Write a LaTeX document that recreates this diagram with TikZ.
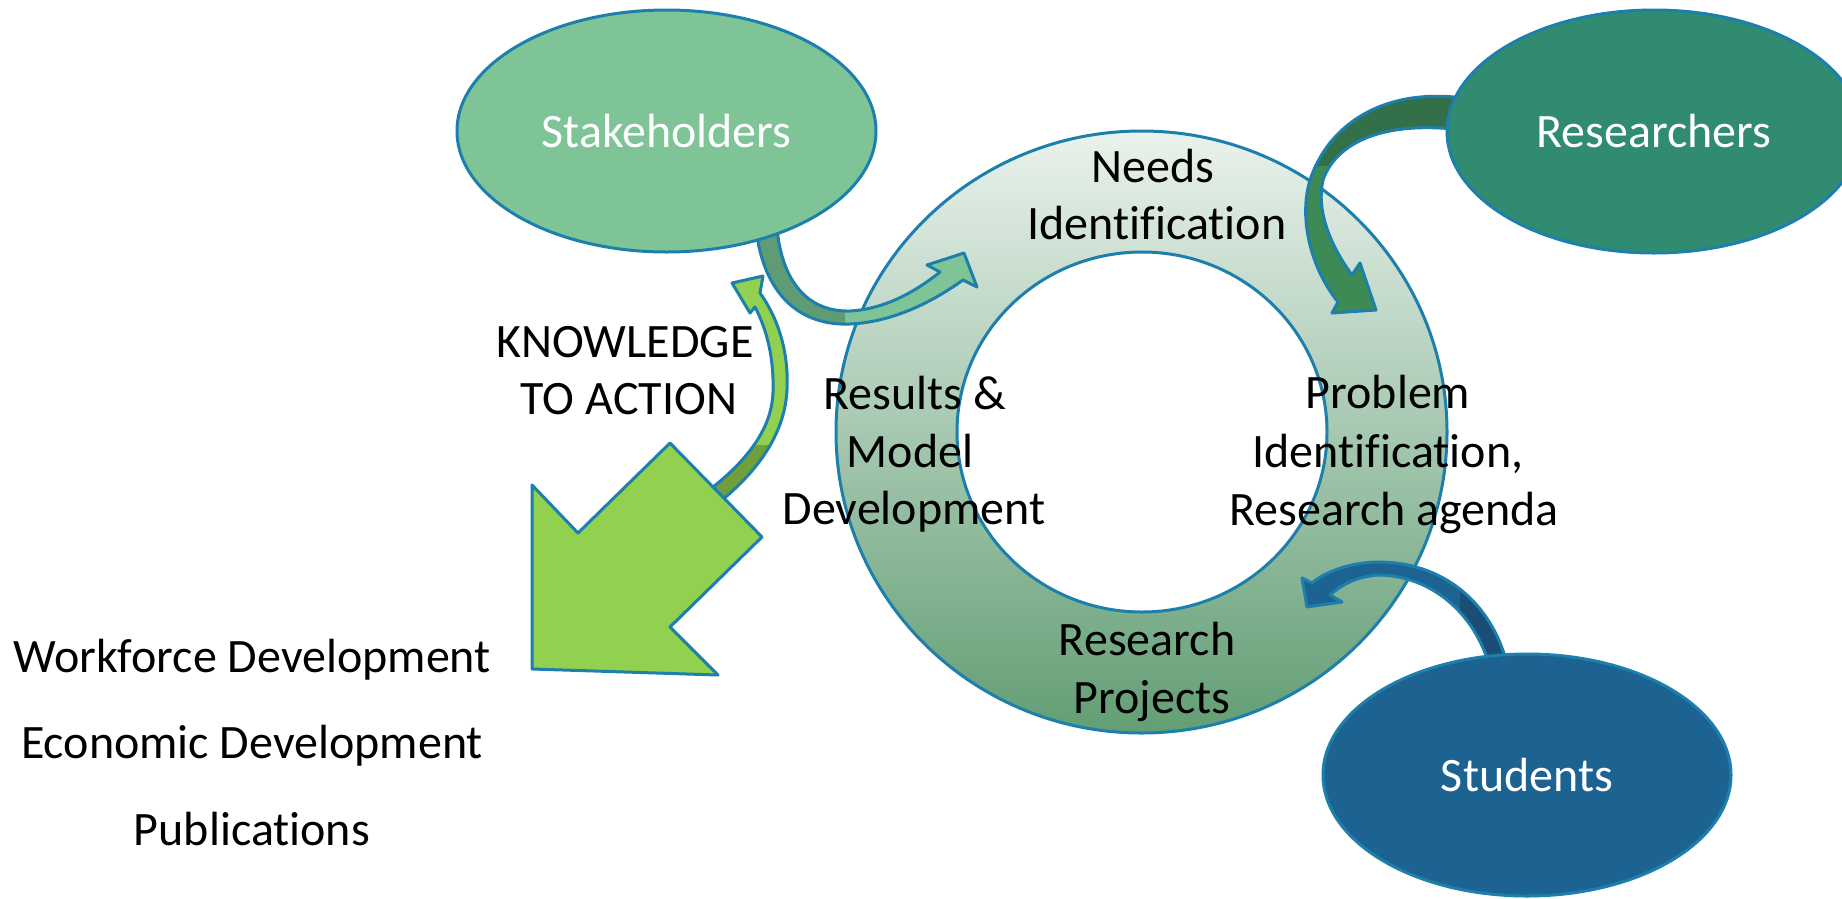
\documentclass[tikz,border=0pt]{standalone}
\usepackage{fontspec}
\setmainfont[Ligatures={NoCommon}]{Carlito}
\usetikzlibrary{shapes.geometric}
\definecolor{edge}{RGB}{28,127,172}
\definecolor{stakefill}{RGB}{127,196,150}
\definecolor{resfill}{RGB}{49,139,113}
\definecolor{stufill}{RGB}{29,99,146}
\definecolor{bigarrow}{RGB}{146,208,80}
\definecolor{bigarrowdark}{RGB}{112,160,60}
\definecolor{ringtop}{RGB}{234,242,236}
\definecolor{ringmid}{RGB}{165,202,176}
\definecolor{ringbot}{RGB}{98,158,116}
\definecolor{sarrow}{RGB}{127,196,150}
\definecolor{sarrowdark}{RGB}{95,155,116}
\definecolor{rarrow}{RGB}{62,138,84}
\definecolor{rarrowdark}{RGB}{51,111,72}
\definecolor{starrow}{RGB}{29,99,146}
\definecolor{starrowdark}{RGB}{26,78,118}
\begin{document}
\begin{tikzpicture}[x=1pt,y=-1pt,
  blob/.style={ellipse, draw=edge, line width=3pt, text=white, font=\fontsize{48}{58}\selectfont, inner sep=0pt},
  lbl/.style={anchor=base, font=\fontsize{48}{58}\selectfont, inner sep=0pt},
  outline/.style={draw=edge, line width=3pt, line join=round}]
\useasboundingbox (0,0) rectangle (1842,898);

% ring
\shade[top color=ringtop, middle color=ringmid, bottom color=ringbot] (1141.5,432) ellipse [x radius=305.5pt, y radius=301pt];
\fill[white] (1142,432) ellipse [x radius=185pt, y radius=180pt];
\draw[edge, line width=3pt] (1141.5,432) ellipse [x radius=305.5pt, y radius=301pt];
\draw[edge, line width=3pt] (1142,432) ellipse [x radius=185pt, y radius=180pt];

% knowledge-to-action curved arrow
\def\kpath{(732,283) -- (763,276) -- (760,293) .. controls (778,318) and (789,352) .. (787,390) .. controls (785,430) and (762,470) .. (712,508) -- (700,497) .. controls (748,462) and (772,428) .. (773,392) .. controls (774,358) and (767,330) .. (755,307) -- (750,313) -- cycle}
\fill[bigarrow] \kpath;
\begin{scope}
  \clip (600,445) rectangle (800,520);
  \fill[bigarrowdark] \kpath;
\end{scope}
\path[outline] \kpath;

% big arrow
\path[outline, fill=bigarrow] (670,443) -- (762,537) -- (670,627) -- (718,675) -- (532,669) -- (532,485) -- (578,533) -- cycle;

% stakeholders arrow
\def\sapath{(752,215) -- (758,242) .. controls (768,295) and (800,326) .. (850,324) .. controls (895,322) and (935,300) .. (963,280) -- (977,287) -- (964,253) -- (927,265) -- (940,272) .. controls (915,292) and (885,309) .. (850,311) .. controls (810,312) and (785,285) .. (778,237) -- (776,215) -- cycle}
\fill[sarrow] \sapath;
\begin{scope}
  \clip (700,200) rectangle (845,340);
  \fill[sarrowdark] \sapath;
\end{scope}
\path[outline] \sapath;

% researchers arrow
\def\rapath{(1470,99) .. controls (1390,86) and (1330,120) .. (1310,180) .. controls (1298,220) and (1312,270) .. (1338,302) -- (1332,313) -- (1376,310) -- (1360,263) -- (1352,275) .. controls (1330,245) and (1316,210) .. (1323,180) .. controls (1335,145) and (1380,118) .. (1470,131) -- cycle}
\fill[rarrow] \rapath;
\begin{scope}
  \clip (1300,80) rectangle (1480,165);
  \fill[rarrowdark] \rapath;
\end{scope}
\path[outline] \rapath;

% students arrow
\def\stpath{(1508,668) .. controls (1495,610) and (1450,563) .. (1380,562) .. controls (1350,562) and (1325,572) .. (1312,583) -- (1302,578) -- (1307,607) -- (1342,602) -- (1330,595) .. controls (1345,582) and (1360,576) .. (1380,575) .. controls (1430,576) and (1475,612) .. (1490,668) -- cycle}
\fill[starrow] \stpath;
\begin{scope}
  \clip (1460,590) rectangle (1530,680);
  \fill[starrowdark] \stpath;
\end{scope}
\path[outline] \stpath;

% ellipses
\node[blob, fill=stakefill, minimum width=419pt, minimum height=242pt] (stake) at (666.5,131) {Stakeholders};
\node[blob, fill=resfill, minimum width=414pt, minimum height=243pt] (res) at (1654,131.5) {Researchers};
\node[blob, fill=stufill, minimum width=408pt, minimum height=242pt] (stu) at (1527,775) {Students};

% ring labels
\node[lbl] (needs1) at (1153,182) {Needs};
\node[lbl] (needs2) at (1157,239) {Identification};
\node[lbl] (prob1) at (1388,408) {Problem};
\node[lbl] (prob2) at (1388,467) {Identification,};
\node[lbl] (prob3) at (1394,525) {Research agenda};
\node[lbl] (resu1) at (915,409) {Results \&};
\node[lbl] (resu2) at (910,467) {Model};
\node[lbl] (resu3) at (914,524) {Development};
\node[lbl] (proj1) at (1147,655) {Research};
\node[lbl] (proj2) at (1152,713) {Projects};

% knowledge to action
\node[lbl] (k1) at (625,357) {KNOWLEDGE};
\node[lbl] (k2) at (629,414) {TO ACTION};

% outcomes
\node[lbl] (o1) at (252,672) {Workforce Development};
\node[lbl] (o2) at (252,758) {Economic Development};
\node[lbl] (o3) at (252,845) {Publications};
\end{tikzpicture}
\end{document}
